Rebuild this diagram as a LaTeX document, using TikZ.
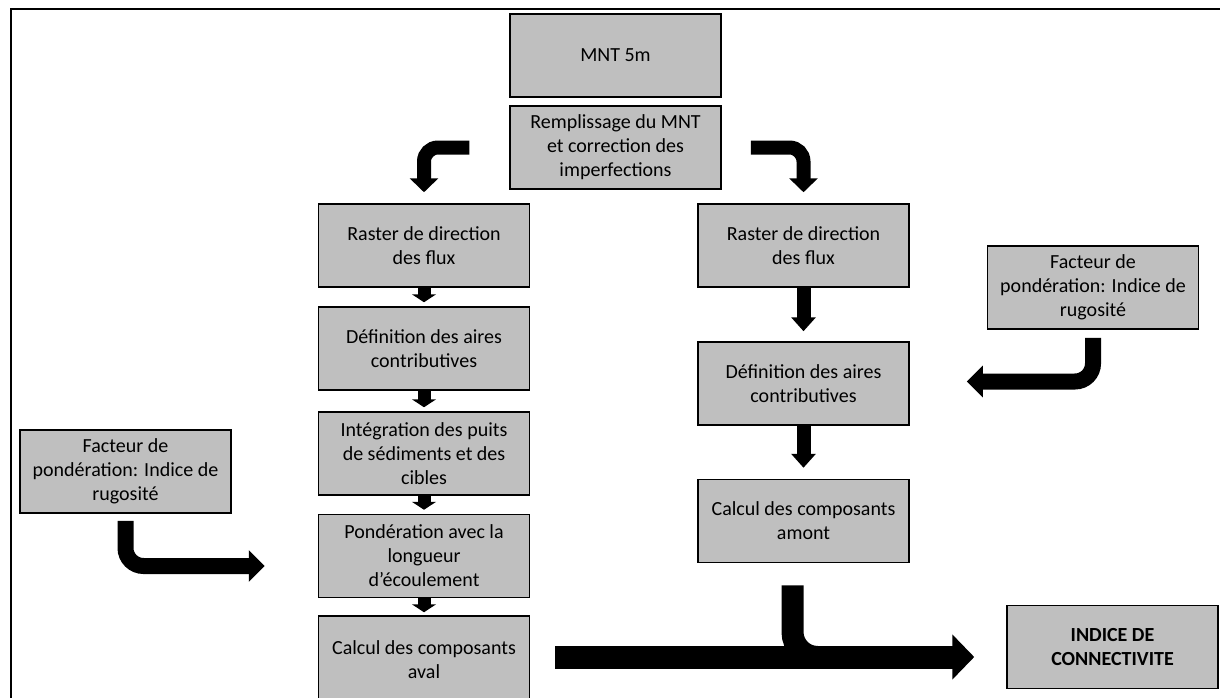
\documentclass[tikz,border=0pt]{standalone}
\usepackage{fontspec}
\setmainfont{Carlito}
\usetikzlibrary{arrows.meta,calc}
\definecolor{boxgray}{RGB}{191,191,191}

\begin{document}
\begin{tikzpicture}[x=1pt, y=-1pt,
    box/.style={draw=black, line width=1.5pt, fill=boxgray, minimum width=211pt, minimum height=83pt,
      inner sep=0pt, align=center, font=\fontsize{20}{24}\selectfont},
    bentarrow/.style={line width=14pt, rounded corners=14pt, -{Triangle[width=28pt, length=14pt]}},
    link/.style={line width=13pt, -{Triangle[width=24pt, length=8pt]}},
    linkR/.style={line width=14pt, -{Triangle[width=24pt, length=14pt]}},
    turn/.style={line width=16pt, rounded corners=18pt, -{Triangle[width=31pt, length=16pt]}},
    bigarrow/.style={line width=23pt, -{Triangle[width=44pt, length=22pt]}},
    merge/.style={line width=22pt, rounded corners=25pt}]
  \clip (0,0) rectangle (1220,698);
  % frame
  \draw[line width=2pt] (11,710) -- (11,9) -- (1230,9);

  % top
  \node[box] (mnt) at (615.5,55.5) {MNT 5m};
  \node[box] (remp) at (615.5,147.5) {Remplissage du MNT\\et correction des\\imperfections};

  % left branch
  \node[box] (rastL) at (424,245.5) {Raster de direction\\des flux};
  \node[box] (defL) at (424,348.5) {Définition des aires\\contributives};
  \node[box] (integ) at (424,453.5) {Intégration des puits\\de sédiments et des\\cibles};
  \node[box] (pond) at (424,556) {Pondération avec la\\longueur\\d’écoulement};
  \node[box, minimum height=87pt] (aval) at (424,659.5) {Calcul des composants\\aval};
  \node[box] (factL) at (125.5,471.5) {Facteur de\\pondération: Indice de\\rugosité};

  % right branch
  \node[box] (rastR) at (803.5,245.5) {Raster de direction\\des flux};
  \node[box] (defR) at (803.5,383.5) {Définition des aires\\contributives};
  \node[box] (amont) at (803.5,521) {Calcul des composants\\amont};
  \node[box] (factR) at (1093,287.5) {Facteur de\\pondération: Indice de\\rugosité};

  % result
  \node[box, font=\fontsize{20}{24}\selectfont\bfseries] (indice) at (1112.5,647) {INDICE DE\\CONNECTIVITE};

  % bent arrows out of the filled DEM
  \coordinate (rempL) at ($(remp.west)+(-40,0)$);
  \coordinate (rempR) at ($(remp.east)+(29,0)$);
  \draw[bentarrow, shorten >=11pt] (rempL) -- (rempL -| rastL.north) -- (rastL.north);
  \draw[bentarrow, shorten >=11pt] (rempR) -- (rempR -| rastR.north) -- (rastR.north);

  % left column
  \draw[link, shorten >=4pt] (rastL) -- (defL);
  \draw[link, shorten >=4pt] (defL) -- (integ);
  \draw[link, shorten >=4pt] (integ) -- (pond);
  \draw[link, shorten >=3pt] (pond) -- (aval);

  % right column
  \draw[linkR, shorten >=10pt] (rastR) -- (defR);
  \draw[linkR, shorten >=11pt] (defR) -- (amont);

  % weighting factors
  \coordinate (pondIn) at ($(pond.west)+(-53,10)$);
  \coordinate (defRIn) at ($(defR.east)+(57,-2)$);
  \draw[turn, shorten <=7pt] (factL.south) -- (factL.south |- pondIn) -- (pondIn);
  \draw[turn, shorten <=8pt] (factR.south) -- (factR.south |- defRIn) -- (defRIn);

  % towards the index
  \coordinate (bigOut) at ($(aval.east)+(25,-2.5)$);
  \coordinate (amontOut) at ($(amont.south)+(-11,22)$);
  \draw[merge] (amontOut) -- (amontOut |- bigOut) -- (bigOut -| amont.east);
  \draw[bigarrow, shorten >=32pt] (bigOut) -- (bigOut -| indice.west);
\end{tikzpicture}
\end{document}
